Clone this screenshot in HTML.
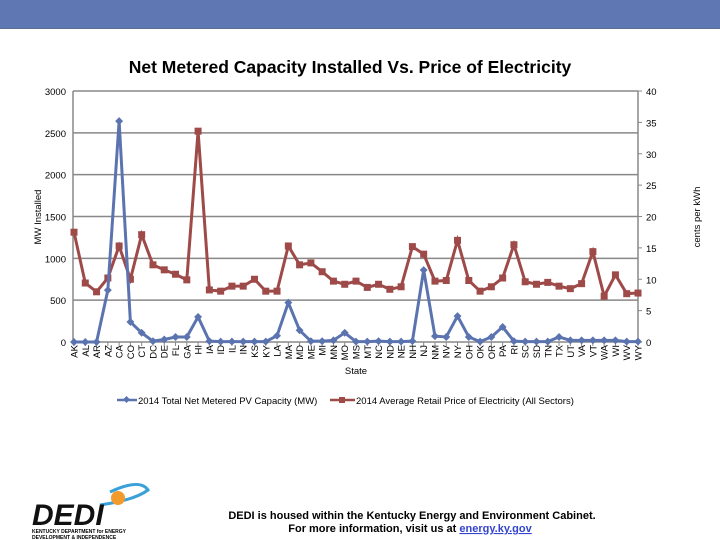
<!DOCTYPE html>
<html><head><meta charset="utf-8"><style>
body{margin:0;width:720px;height:540px;overflow:hidden;background:#fff;font-family:"Liberation Sans",Arial,sans-serif;position:relative}
</style></head><body>
<div style="position:absolute;left:0;top:0;width:720px;height:28px;background:#5f77b3;border-bottom:1px solid #5a7090"></div>
<svg id="chart" width="720" height="540" style="position:absolute;left:0;top:0" xmlns="http://www.w3.org/2000/svg">
<text x="350" y="73" text-anchor="middle" font-size="17.5" font-weight="bold" font-family="Liberation Sans, sans-serif">Net Metered Capacity Installed Vs. Price of Electricity</text>
<g id="grid"></g><g id="marks"></g><g id="labels" font-family="Liberation Sans, sans-serif" font-size="9.5"></g>
<text transform="translate(41,217) rotate(-90)" text-anchor="middle" font-size="9.5" font-family="Liberation Sans, sans-serif">MW Installed</text>
<text transform="translate(700,217) rotate(-90)" text-anchor="middle" font-size="9.5" font-family="Liberation Sans, sans-serif">cents per kWh</text>
<text x="356" y="374" text-anchor="middle" font-size="9.5" font-family="Liberation Sans, sans-serif">State</text>
<g font-size="9.5" font-family="Liberation Sans, sans-serif">
<line x1="117" y1="400" x2="137" y2="400" stroke="#5b74b0" stroke-width="2.5"/><rect x="124" y="397" width="5" height="5" fill="#5b74b0" transform="rotate(45 126.5 399.5)"/>
<text x="138" y="404">2014 Total Net Metered PV Capacity (MW)</text>
<line x1="330" y1="400" x2="355" y2="400" stroke="#9e4a48" stroke-width="2.5"/><rect x="339" y="397" width="6" height="6" fill="#9e4a48"/>
<text x="356" y="404">2014 Average Retail Price of Electricity (All Sectors)</text>
</g>
<g>
<path d="M110 492 Q140 478 148 490 Q135 500 100 505" fill="none" stroke="#3aa0d8" stroke-width="3"/>
<circle cx="118" cy="498" r="7" fill="#f39a2c"/>
<text x="32" y="525" font-size="30" font-weight="bold" font-style="italic" font-family="Liberation Sans, sans-serif" fill="#111">DEDI</text>
<text x="32" y="533" font-size="5" font-weight="bold" font-family="Liberation Sans, sans-serif">KENTUCKY DEPARTMENT for ENERGY</text>
<text x="32" y="539" font-size="5" font-weight="bold" font-family="Liberation Sans, sans-serif">DEVELOPMENT &amp; INDEPENDENCE</text>
</g>
<text x="412" y="519" text-anchor="middle" font-size="11" font-weight="bold" font-family="Liberation Sans, sans-serif">DEDI is housed within the Kentucky Energy and Environment Cabinet.</text>
<text x="410" y="532" text-anchor="middle" font-size="11" font-weight="bold" font-family="Liberation Sans, sans-serif">For more information, visit us at <tspan fill="#3344cc" text-decoration="underline">energy.ky.gov</tspan></text>
</svg>
<script>
const states=["AK","AL","AR","AZ","CA","CO","CT","DC","DE","FL","GA","HI","IA","ID","IL","IN","KS","KY","LA","MA","MD","ME","MI","MN","MO","MS","MT","NC","ND","NE","NH","NJ","NM","NV","NY","OH","OK","OR","PA","RI","SC","SD","TN","TX","UT","VA","VT","WA","WI","WV","WY"];
const mwValues=[0,0,0,620,2640,240,110,10,30,60,60,300,10,5,5,5,5,5,75,470,140,10,10,20,110,5,5,10,5,5,10,860,70,60,310,60,5,60,180,10,5,5,5,60,20,20,20,20,20,5,5];
const priceValues=[17.5,9.4,8.0,10.2,15.3,10.0,17.1,12.3,11.5,10.8,9.9,33.6,8.3,8.1,8.9,8.9,10.0,8.1,8.1,15.3,12.3,12.6,11.2,9.7,9.2,9.7,8.7,9.2,8.4,8.8,15.2,14.0,9.7,9.8,16.2,9.8,8.1,8.8,10.2,15.5,9.6,9.2,9.5,8.9,8.5,9.3,14.4,7.3,10.7,7.7,7.8];
const leftTicks=[0,500,1000,1500,2000,2500,3000];
const rightTicks=[0,5,10,15,20,25,30,35,40];
const NS="http://www.w3.org/2000/svg";
const X0=74,X1=638,Y0=342,Y1=91;
const xs=i=>X0+i*(X1-X0)/(states.length-1);
const yL=v=>Y0-v/3000*(Y0-Y1);
const yR=v=>Y0-v/40*(Y0-Y1);
function mk(tag,attrs,parent){const e=document.createElementNS(NS,tag);for(const k in attrs)e.setAttribute(k,attrs[k]);parent.appendChild(e);return e;}
const grid=document.getElementById('grid'),marks=document.getElementById('marks'),labels=document.getElementById('labels');
leftTicks.forEach(t=>{const g=mk('line',{x1:73,x2:X1,y1:yL(t),y2:yL(t),stroke:'#888','stroke-width':1.5},grid);


const tx=mk('text',{x:66,y:yL(t)+4,'text-anchor':'end'},labels);tx.textContent=t;

});
mk('line',{x1:73,x2:73,y1:Y1,y2:Y0,stroke:'#888','stroke-width':1.5},grid);
mk('line',{x1:X1,x2:X1,y1:Y1,y2:Y0,stroke:'#888','stroke-width':1.5},grid);
rightTicks.forEach(t=>{mk('line',{x1:X1,x2:X1+4,y1:yR(t),y2:yR(t),stroke:'#888'},grid);
const tx=mk('text',{x:646,y:yR(t)+4},labels);tx.textContent=t;

});
states.forEach((s,i)=>{mk('line',{x1:xs(i),x2:xs(i),y1:Y0,y2:Y0+4,stroke:'#888'},grid);
const tx=mk('text',{transform:`translate(${xs(i)+3.5},345) rotate(-90)`,'text-anchor':'end'},labels);tx.textContent=s;

});
const pl=mk('polyline',{points:priceValues.map((v,i)=>xs(i)+','+yR(v)).join(' '),fill:'none',stroke:'#9e4a48','stroke-width':3},marks);


priceValues.forEach((v,i)=>{const r=mk('rect',{x:xs(i)-3.5,y:yR(v)-3.5,width:7,height:7,fill:'#9e4a48'},marks);

});
const ml=mk('polyline',{points:mwValues.map((v,i)=>xs(i)+','+yL(v)).join(' '),fill:'none',stroke:'#5b74b0','stroke-width':3},marks);


mwValues.forEach((v,i)=>{const r=mk('rect',{x:xs(i)-2.8,y:yL(v)-2.8,width:5.6,height:5.6,fill:'#5b74b0',transform:`rotate(45 ${xs(i)} ${yL(v)})`},marks);

});
</script>
</body></html>
